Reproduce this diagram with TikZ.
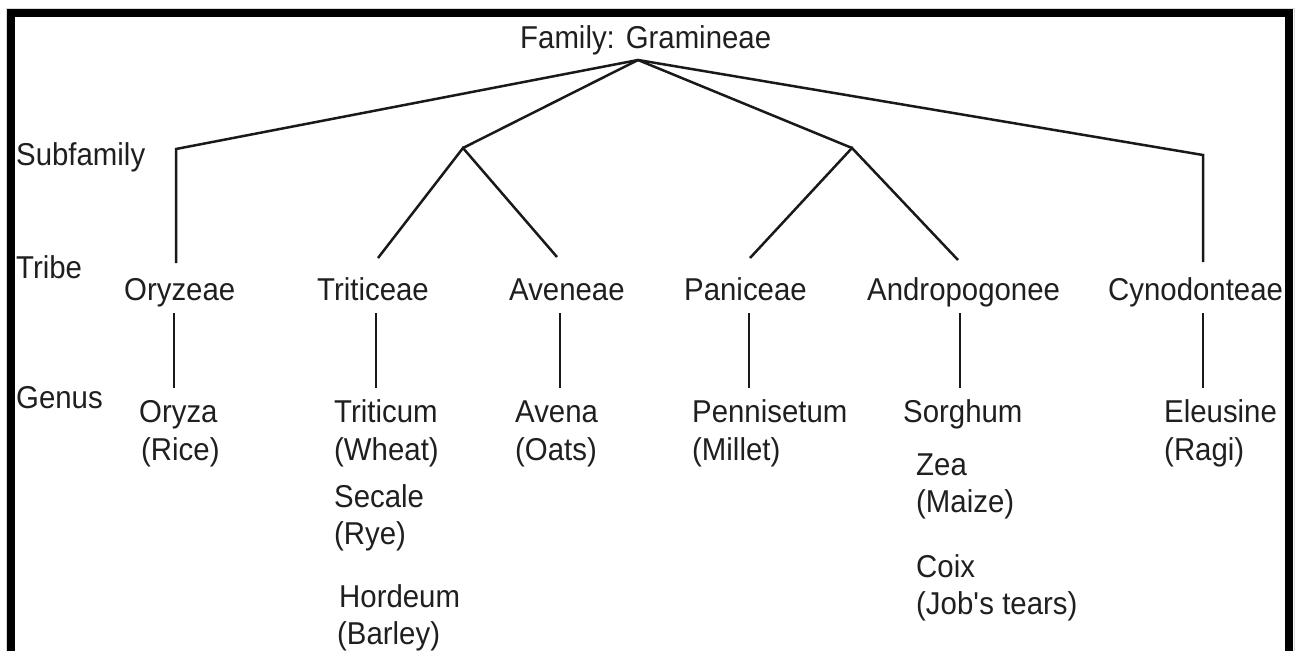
\documentclass[tikz,border=0pt]{standalone}
\usepackage{fontspec}
\setmainfont{Liberation Sans}[FakeStretch=0.93]
\begin{document}
\begin{tikzpicture}[x=1pt,y=-1pt,
  lbl/.style={anchor=base west, inner sep=0pt, font=\fontsize{31.6}{37}\selectfont, text=black!88},
  edge/.style={line width=2.5pt, draw=black!90, line join=miter},
  frame/.style={line width=8pt, line join=miter}]
\useasboundingbox (0,0) rectangle (1298,651);
% frame
\draw[black!15, line width=1pt] (6,651) -- (6,8) -- (1294,8) -- (1294,651);
\draw[frame] (11,651) -- (11,12.5) -- (1289,12.5) -- (1289,651);
% titles
\node[lbl] (family) at (520,48) {Family: Gramineae};
\node[lbl] (rsub) at (16,165) {Subfamily};
\node[lbl] (rtribe) at (16,278) {Tribe};
\node[lbl] (rgenus) at (16,408) {Genus};
% tribes
\node[lbl] (oryzeae) at (124,300) {Oryzeae};
\node[lbl] (triticeae) at (317,300) {Triticeae};
\node[lbl] (aveneae) at (509,300) {Aveneae};
\node[lbl] (paniceae) at (684,300) {Paniceae};
\node[lbl] (andro) at (867,300) {Andropogonee};
\node[lbl] (cyno) at (1108,300) {Cynodonteae};
% genera
\node[lbl] (oryza) at (139,422) {Oryza};
\node[lbl] (rice) at (141,460) {(Rice)};
\node[lbl] (triticum) at (334,422) {Triticum};
\node[lbl] (wheat) at (334,460) {(Wheat)};
\node[lbl] (secale) at (334,507) {Secale};
\node[lbl] (rye) at (334,544) {(Rye)};
\node[lbl] (hordeum) at (339,607) {Hordeum};
\node[lbl] (barley) at (337,644) {(Barley)};
\node[lbl] (avena) at (515,422) {Avena};
\node[lbl] (oats) at (515,460) {(Oats)};
\node[lbl] (pennisetum) at (692,422) {Pennisetum};
\node[lbl] (millet) at (692,460) {(Millet)};
\node[lbl] (sorghum) at (903,422) {Sorghum};
\node[lbl] (zea) at (916,475) {Zea};
\node[lbl] (maize) at (916,512) {(Maize)};
\node[lbl] (coix) at (916,577) {Coix};
\node[lbl] (jobs) at (916,614) {(Job\textquotesingle s tears)};
\node[lbl] (eleusine) at (1164,422) {Eleusine};
\node[lbl] (ragi) at (1164,460) {(Ragi)};
% joints
\coordinate (root) at (638,60);
\coordinate (s1) at (176,149);
\coordinate (s2) at (463,148);
\coordinate (s3) at (852,148);
\coordinate (s4) at (1203,155);
\coordinate (t1) at (176,263);
\coordinate (t2) at (378,258);
\coordinate (t3) at (557,257);
\coordinate (t4) at (750,258);
\coordinate (t5) at (958,260);
\coordinate (t6) at (1203,262);
\coordinate (g1a) at (174,313); \coordinate (g1b) at (174,388);
\coordinate (g2a) at (376,313); \coordinate (g2b) at (376,388);
\coordinate (g3a) at (560,313); \coordinate (g3b) at (560,388);
\coordinate (g4a) at (749,313); \coordinate (g4b) at (749,388);
\coordinate (g5a) at (960,313); \coordinate (g5b) at (960,388);
\coordinate (g6a) at (1203,313); \coordinate (g6b) at (1203,388);
% connectors
\draw[edge] (t1) -- (s1) -- (root) -- (s4) -- (t6);
\draw[edge] (root) -- (s2);
\draw[edge] (root) -- (s3);
\draw[edge] (t2) -- (s2) -- (t3);
\draw[edge] (t4) -- (s3) -- (t5);
\foreach \i in {1,...,6} { \draw[edge] (g\i a) -- (g\i b); }
\end{tikzpicture}
\end{document}
